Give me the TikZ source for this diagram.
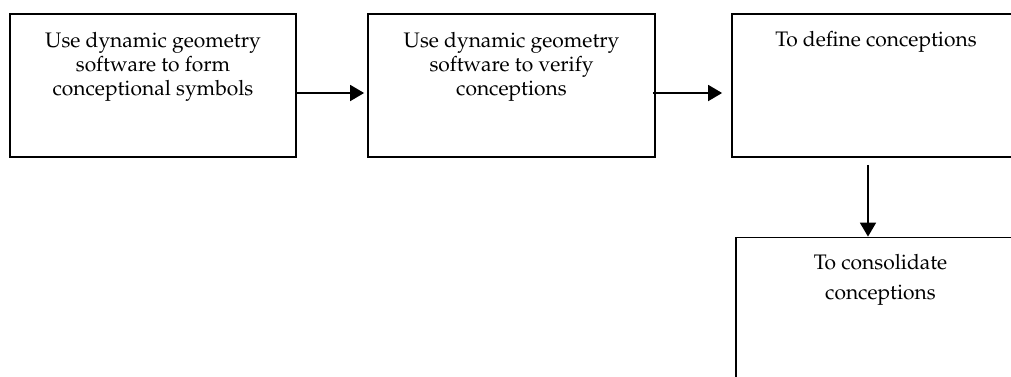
\documentclass[tikz,border=0pt]{standalone}
\usepackage[T1]{fontenc}
\usepackage{mathpazo}
\usetikzlibrary{arrows.meta}
\tikzset{
  box/.style={draw, line width=1.8pt, rectangle, inner sep=0pt},
  txt/.style={align=center, inner sep=0pt, font=\fontsize{21}{23.7}\selectfont},
  txtwide/.style={align=center, inner sep=0pt, font=\fontsize{21}{29.5}\selectfont},
  conn/.style={line width=1.8pt, -{Triangle[length=14pt,width=16pt]}}
}
\begin{document}
\begin{tikzpicture}[x=1pt,y=-1pt]
\useasboundingbox (0,0) rectangle (1011,376);
\node[box, minimum width=286pt, minimum height=143pt] (b1) at (153,85.5) {};
\node[box, minimum width=287pt, minimum height=143pt] (b2) at (511.5,85.5) {};
\node[box, minimum width=288pt, minimum height=143pt] (b3) at (876,85.5) {};
\node[box, minimum width=289pt, minimum height=143pt] (b4) at (880.5,309) {};
\node[txt, anchor=base] (t1) at (153,95) {Use dynamic geometry\\software to form\\conceptional symbols};
\node[txt, anchor=base] (t2) at (511.5,95) {Use dynamic geometry\\software to verify\\conceptions};
\node[txt, anchor=base] (t3) at (876,46) {To define conceptions};
\node[txtwide, anchor=base] (t4) at (880.5,299) {To consolidate\\conceptions};
\coordinate (a3) at (868,0);
\draw[conn, shorten >=3pt] ([yshift=-7.5pt]b1.east) -- ([yshift=-7.5pt]b2.west);
\draw[conn, shorten <=-3pt, shorten >=9pt] ([yshift=-7.5pt]b2.east) -- ([yshift=-7.5pt]b3.west);
\draw[conn, shorten <=7pt] (b3.south -| a3) -- (b4.north -| a3);
\end{tikzpicture}
\end{document}
